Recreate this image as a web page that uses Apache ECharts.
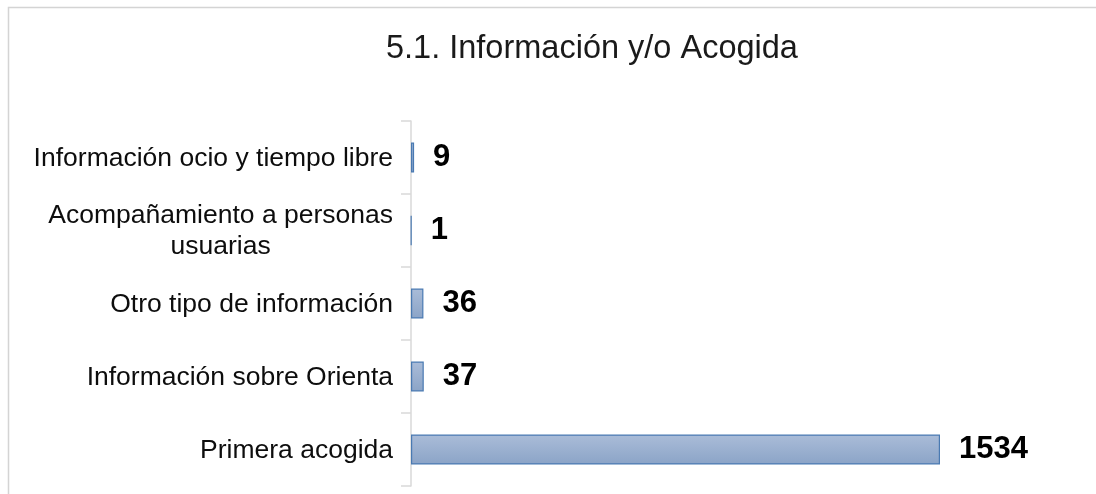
<!DOCTYPE html>
<html>
<head>
<meta charset="utf-8">
<script src="https://cdn.jsdelivr.net/npm/echarts@6/dist/echarts.min.js"></script>
<style>
html,body{margin:0;padding:0;background:#fff;}
#chart{width:1096px;height:494px;}
</style>
</head>
<body>
<div id="chart"></div>
<script>
const titleText = '5.1. Información y/o Acogida';
const categories = [
  'Primera acogida',
  'Información sobre Orienta',
  'Otro tipo de información',
  'Acompañamiento a personas\nusuarias',
  'Información ocio y tiempo libre'
];
const values = [1534, 37, 36, 1, 9];

const chart = echarts.init(document.getElementById('chart'), null, {renderer: 'canvas'});
const fontFam = 'Liberation Sans, Arial, sans-serif';
chart.setOption({
  animation: false,
  backgroundColor: '#ffffff',
  title: {
    text: titleText,
    left: 386,
    top: 33,
    padding: 0,
    textStyle: {fontFamily: fontFam, fontSize: 32.5, fontWeight: 'normal', color: '#1a1a1a'}
  },
  graphic: [{
    type: 'rect',
    shape: {x: 8.5, y: 7.5, width: 1200, height: 1000},
    style: {fill: 'none', stroke: '#d4d4d4', lineWidth: 1.5},
    silent: true
  }],
  grid: {left: 411, top: 121, bottom: 8, right: 156, containLabel: false},
  xAxis: {
    type: 'value',
    min: 0,
    max: Math.max(...values),
    show: false
  },
  yAxis: {
    type: 'category',
    data: categories,
    axisLine: {show: true, lineStyle: {color: '#d9d9d9', width: 1.5}},
    axisTick: {show: true, length: 10, lineStyle: {color: '#d9d9d9', width: 1.5}},
    axisLabel: {
      margin: 18,
      formatter: function (v) { return v.split('\n').map(s => '{c|' + s + '}').join('\n'); },
      rich: {c: {align: 'center', fontFamily: fontFam, fontSize: 26.5, color: '#0d0d0d', lineHeight: 31, padding: [2, 0, 0, 0]}}
    },
    splitLine: {show: false}
  },
  series: [{
    type: 'bar',
    data: values,
    barWidth: 30,
    itemStyle: {
      color: new echarts.graphic.LinearGradient(0, 0, 0, 1, [
        {offset: 0, color: '#aabcd8'},
        {offset: 1, color: '#8ba4c7'}
      ]),
      borderColor: '#4a7ab2',
      borderWidth: 1.2
    },
    label: {
      show: true,
      position: 'right',
      distance: 19,
      fontFamily: fontFam,
      fontSize: 31,
      fontWeight: 'bold',
      color: '#000000'
    }
  }]
});
</script>
</body>
</html>
